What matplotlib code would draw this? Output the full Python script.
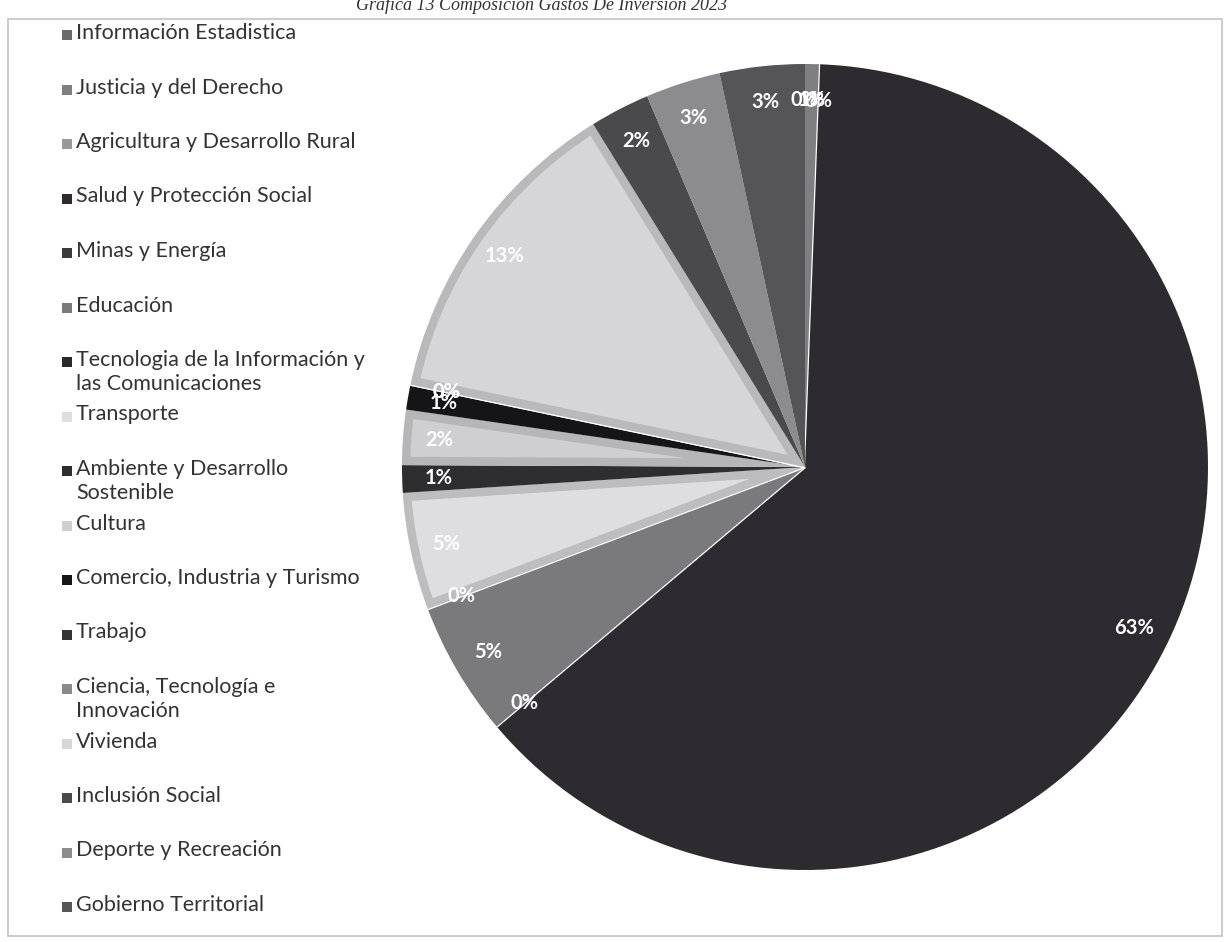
import matplotlib.pyplot as plt
from matplotlib.patches import Rectangle

# datos de la grafica (porcentaje de la inversion)
categorias = ['Información Estadistica', 'Justicia y del Derecho', 'Agricultura y Desarrollo Rural',
              'Salud y Protección Social', 'Minas y Energía', 'Educación',
              'Tecnologia de la Información y\nlas Comunicaciones', 'Transporte',
              'Ambiente y Desarrollo\nSostenible', 'Cultura', 'Comercio, Industria y Turismo',
              'Trabajo', 'Ciencia, Tecnología e\nInnovación', 'Vivienda', 'Inclusión Social',
              'Deporte y Recreación', 'Gobierno Territorial']
valores = [0, 0.6, 0, 63.2, 0, 5.4, 0, 4.7, 1.1, 2.2, 1.0, 0, 0, 12.9, 2.4, 3.0, 3.4]
titulo = 'Gráfica 13 Composición Gastos De Inversión 2023'

colores = ['#6a6a6c', '#7f7f81', '#9a9a9c', '#2d2b30', '#3a3a3c', '#7a7a7c', '#2a2a2c',
           '#dedee0', '#2e2e30', '#cfcfd2', '#151517', '#333335', '#8a8a8c', '#d6d6d9',
           '#4a4a4c', '#8c8c8e', '#555557']
claros = {'#dedee0': '#bdbdc0', '#cfcfd2': '#b6b6b9', '#d6d6d9': '#b9b9bc'}

W, H = 1229, 942
fig = plt.figure(figsize=(W / 100, H / 100), dpi=100)

# torta: centro (805, 467) px, radio 403 px
cx, cy, r = 805, 467, 403
ax = fig.add_axes([(cx - r) / W, (H - cy - r) / H, 2 * r / W, 2 * r / H])
wedges, textos, autotextos = ax.pie(valores, colors=colores, startangle=90, counterclock=False,
                                    autopct='%1.0f%%', pctdistance=0.91,
                                    wedgeprops=dict(linewidth=0),
                                    textprops=dict(color='white', fontweight='bold',
                                                   fontsize=14.5, family='Lato'))
for w, v, c in zip(wedges, valores, colores):
    if v == 0:
        w.set_edgecolor('white')
        w.set_linewidth(1.8)
    elif c in claros:
        # borde gris hacia adentro en las porciones claras
        w.set_edgecolor(claros[c])
        w.set_linewidth(12)
        w.set_joinstyle('round')
        w.set_clip_on(True)
        w.set_clip_path(w)
ax.set_xlim(-1, 1)
ax.set_ylim(-1, 1)
ax.axis('off')

# capa en pixeles para leyenda, titulo y marco
ov = fig.add_axes([0, 0, 1, 1], facecolor='none')
ov.set_xlim(0, W)
ov.set_ylim(H, 0)
ov.axis('off')

ov.add_patch(Rectangle((8, 19), 1214, 917, fill=False, edgecolor='#c4c4c4', linewidth=1.2))
ov.text(542, 10, titulo, ha='center', va='baseline', fontsize=13, style='italic',
        family='Liberation Serif', color='#333333', clip_on=False)

for i, (nombre, c) in enumerate(zip(categorias, colores)):
    y = 35 + i * 54.5
    ov.add_patch(Rectangle((62, y - 5), 10, 10, color=c, linewidth=0))
    ov.text(76, y - 12, nombre, va='top', ha='left', fontsize=15.5, family='Lato',
            color='#333333', linespacing=1.25)

fig.savefig('out.png', dpi=100)
